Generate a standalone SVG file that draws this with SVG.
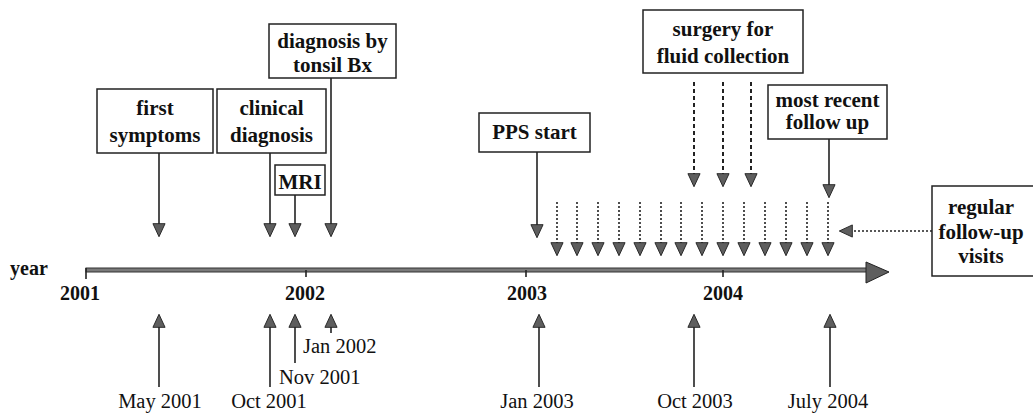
<svg xmlns="http://www.w3.org/2000/svg" width="1033" height="414" viewBox="0 0 1033 414">
<style>
  .box { fill: #fff; stroke: #222; stroke-width: 1.5; }
  .bt { font-family: "Liberation Serif", "Times New Roman", serif; font-weight: bold; font-size: 21px; fill: #111; text-anchor: middle; }
  .yr { font-family: "Liberation Serif", "Times New Roman", serif; font-weight: bold; font-size: 20px; fill: #111; text-anchor: middle; }
  .lt { font-family: "Liberation Serif", "Times New Roman", serif; font-size: 20.5px; fill: #111; }
  .ln { stroke: #222; stroke-width: 1.6; fill: none; }
  .dash { stroke: #222; stroke-width: 2; fill: none; stroke-dasharray: 4 3; }
  .dot { stroke: #222; stroke-width: 1.6; fill: none; stroke-dasharray: 2 2; }
</style>
<defs>
  <marker id="ah" markerUnits="userSpaceOnUse" markerWidth="16" markerHeight="14" refX="10" refY="6.5" orient="auto" viewBox="-1 -1 16 15">
    <path d="M0,0 L14,6.5 L0,13 z" fill="#5e5e5e" stroke="#222" stroke-width="1" stroke-dasharray="none"/>
  </marker>
</defs>
<rect width="1033" height="414" fill="#fff"/>

<g id="timeline">
  <rect x="86" y="268" width="782" height="4" fill="#7a7a7a" stroke="#333" stroke-width="1"/>
  <path d="M866,262 L889,272 L866,283 z" fill="#5e5e5e" stroke="#222" stroke-width="1"/>
  <line x1="86" y1="268" x2="86" y2="279" class="ln"/>
  <line x1="306" y1="270" x2="306" y2="277" class="ln"/>
  <line x1="526" y1="270" x2="526" y2="277" class="ln"/>
  <line x1="723" y1="270" x2="723" y2="277" class="ln"/>
  <text x="10" y="275" class="yr" style="text-anchor:start">year</text>
  <text x="80" y="300" class="yr">2001</text>
  <text x="305" y="300" class="yr">2002</text>
  <text x="527" y="300" class="yr">2003</text>
  <text x="723" y="300" class="yr">2004</text>
</g>

<g id="first-symptoms">
  <rect x="97" y="89" width="116" height="64" class="box"/>
  <text x="155" y="115" class="bt">first</text>
  <text x="155" y="142" class="bt">symptoms</text>
</g>
<g id="clinical-diagnosis">
  <rect x="217" y="89" width="109" height="64" class="box"/>
  <text x="271.5" y="115" class="bt">clinical</text>
  <text x="271.5" y="142" class="bt">diagnosis</text>
</g>
<g id="mri">
  <rect x="275" y="165" width="50" height="30" class="box"/>
  <text x="300" y="189" class="bt">MRI</text>
</g>
<g id="tonsil-bx">
  <rect x="269" y="24" width="127" height="54" class="box"/>
  <text x="332.5" y="48" class="bt">diagnosis by</text>
  <text x="332.5" y="72" class="bt">tonsil Bx</text>
</g>
<g id="pps-start">
  <rect x="479" y="113" width="111" height="39" class="box"/>
  <text x="534.5" y="139" class="bt">PPS start</text>
</g>
<g id="surgery">
  <rect x="643" y="10" width="160" height="63" class="box"/>
  <text x="723" y="36" class="bt">surgery for</text>
  <text x="723" y="63" class="bt">fluid collection</text>
</g>
<g id="most-recent">
  <rect x="768" y="85" width="119" height="54" class="box"/>
  <text x="827.5" y="107" class="bt">most recent</text>
  <text x="827.5" y="129" class="bt">follow up</text>
</g>
<g id="regular-visits">
  <rect x="932" y="186" width="110" height="90" class="box"/>
  <text x="981" y="214" class="bt">regular</text>
  <text x="981" y="239" class="bt">follow-up</text>
  <text x="981" y="263" class="bt">visits</text>
</g>

<g id="date-labels">
  <text x="160" y="408" class="lt" text-anchor="middle">May 2001</text>
  <text x="269" y="408" class="lt" text-anchor="middle">Oct 2001</text>
  <text x="279" y="384" class="lt">Nov 2001</text>
  <text x="303" y="353" class="lt">Jan 2002</text>
  <text x="537" y="408" class="lt" text-anchor="middle">Jan 2003</text>
  <text x="695" y="408" class="lt" text-anchor="middle">Oct 2003</text>
  <text x="828" y="408" class="lt" text-anchor="middle">July 2004</text>
</g>

<g id="connectors">
  <line x1="159" y1="153" x2="159" y2="233" class="ln" marker-end="url(#ah)"/>
  <line x1="270" y1="153" x2="270" y2="233" class="ln" marker-end="url(#ah)"/>
  <line x1="295" y1="195" x2="295" y2="233" class="ln" marker-end="url(#ah)"/>
  <line x1="331" y1="78" x2="331" y2="233" class="ln" marker-end="url(#ah)"/>
  <line x1="537" y1="152" x2="537" y2="234" class="ln" marker-end="url(#ah)"/>
  <line x1="829" y1="139" x2="829" y2="194" class="ln" marker-end="url(#ah)"/>
  <line x1="694" y1="82" x2="694" y2="183" class="dash" marker-end="url(#ah)"/>
  <line x1="723" y1="82" x2="723" y2="183" class="dash" marker-end="url(#ah)"/>
  <line x1="751" y1="82" x2="751" y2="183" class="dash" marker-end="url(#ah)"/>
  <line x1="557" y1="202" x2="557" y2="252" class="dot" marker-end="url(#ah)"/>
  <line x1="577" y1="202" x2="577" y2="252" class="dot" marker-end="url(#ah)"/>
  <line x1="598" y1="202" x2="598" y2="252" class="dot" marker-end="url(#ah)"/>
  <line x1="619" y1="202" x2="619" y2="252" class="dot" marker-end="url(#ah)"/>
  <line x1="640" y1="202" x2="640" y2="252" class="dot" marker-end="url(#ah)"/>
  <line x1="661" y1="202" x2="661" y2="252" class="dot" marker-end="url(#ah)"/>
  <line x1="681" y1="202" x2="681" y2="252" class="dot" marker-end="url(#ah)"/>
  <line x1="702" y1="202" x2="702" y2="252" class="dot" marker-end="url(#ah)"/>
  <line x1="723" y1="202" x2="723" y2="252" class="dot" marker-end="url(#ah)"/>
  <line x1="744" y1="202" x2="744" y2="252" class="dot" marker-end="url(#ah)"/>
  <line x1="765" y1="202" x2="765" y2="252" class="dot" marker-end="url(#ah)"/>
  <line x1="786" y1="202" x2="786" y2="252" class="dot" marker-end="url(#ah)"/>
  <line x1="807" y1="202" x2="807" y2="252" class="dot" marker-end="url(#ah)"/>
  <line x1="828" y1="202" x2="828" y2="252" class="dot" marker-end="url(#ah)"/>
  <line x1="932" y1="231" x2="843" y2="231" class="dot" marker-end="url(#ah)"/>
  <line x1="159" y1="387" x2="159" y2="318" class="ln" marker-end="url(#ah)"/>
  <line x1="270" y1="387" x2="270" y2="318" class="ln" marker-end="url(#ah)"/>
  <line x1="295" y1="363" x2="295" y2="318" class="ln" marker-end="url(#ah)"/>
  <line x1="331" y1="333" x2="331" y2="318" class="ln" marker-end="url(#ah)"/>
  <line x1="539" y1="387" x2="539" y2="318" class="ln" marker-end="url(#ah)"/>
  <line x1="694" y1="387" x2="694" y2="318" class="ln" marker-end="url(#ah)"/>
  <line x1="830" y1="387" x2="830" y2="318" class="ln" marker-end="url(#ah)"/>
</g>
</svg>
